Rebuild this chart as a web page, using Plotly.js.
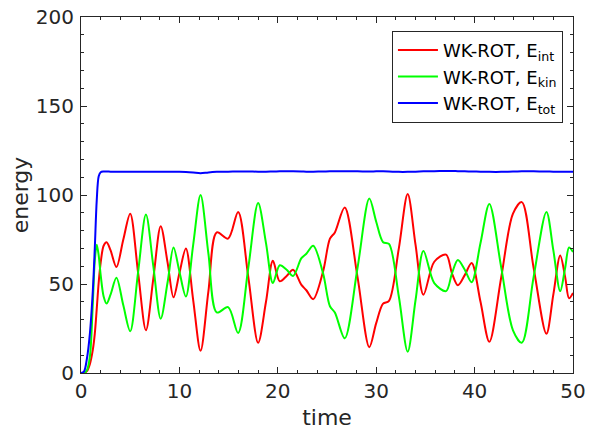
<!DOCTYPE html>
<html>
<head>
<meta charset="utf-8">
<script src="https://cdn.plot.ly/plotly-3.0.1.min.js"></script>
<style>html,body{margin:0;padding:0;background:#fff;}#chart{width:598px;height:434px;}</style>
</head>
<body>
<div id="chart"></div>
<script>
const time = [0, 0.3, 0.6, 0.9, 1.2, 1.4, 1.6, 1.8, 2.0, 2.3, 2.6, 3.0, 3.6, 4.3, 5.0, 5.8, 6.6, 7.35, 8.1, 8.8,
  9.4, 10.0, 10.66, 11.4, 12.15, 12.95, 13.8, 14.95, 15.97, 17.0, 18.0, 18.8, 19.5, 20.2, 20.9, 21.55, 22.4, 22.9, 23.6, 24.6,
  25.3, 25.8, 26.8, 28.1, 29.3, 30.0, 30.7, 31.3, 32.3, 33.2, 34.0, 34.8, 35.9, 37.1, 37.7, 38.3, 39.0, 39.7, 40.6, 41.5,
  42.7, 43.9, 44.8, 46.0, 47.3, 48.0, 48.7, 49.2, 49.6, 50.0];
const eInt = [0, 0, 1, 5, 13, 22, 36, 51, 62, 71.5, 73.5, 69, 59.5, 75, 89.5, 56.5, 24, 53, 82.5, 62,
  42.5, 56, 70, 41, 12.5, 46, 79, 75.5, 90.5, 54, 17, 40, 63, 51.5, 54.5, 58, 49.5, 46.5, 41.5, 57,
  75.5, 79, 93, 54, 14.5, 28, 39, 40.5, 70, 100.5, 72, 44, 62.5, 66.5, 56, 49.3, 55, 61.8, 40, 17.5,
  53.5, 89.5, 96, 59, 22, 44, 66, 54, 42, 45];
const eKin = [0, 0, 1.5, 9, 39, 63, 72, 66, 55, 43, 39, 44, 53.5, 38, 23.5, 56.5, 89, 60, 30.5, 51,
  70.5, 57, 43, 72, 100, 67, 34, 37, 22.5, 59, 95.5, 73, 50.5, 60.5, 58, 54.5, 64.5, 67, 71.5, 56,
  37.5, 34, 19.5, 59, 98, 85, 73.5, 72.5, 43, 12, 41, 68.5, 50.5, 46, 56, 63.5, 58, 51, 73, 95,
  59.5, 24, 17, 54, 90.5, 69, 46, 59, 70.5, 68];
const eTot = [0, 0.8, 8, 22, 46, 70, 97, 110.5, 112.8, 113.2, 113.2, 113.1, 113.0, 113.0, 113.0, 113.1, 113.1, 113.0, 113.0, 113.0,
  113.0, 113.0, 112.9, 112.6, 112.2, 112.7, 113.0, 113.1, 113.2, 113.2, 113.1, 113.1, 113.2, 113.3, 113.3, 113.3, 113.2, 113.1, 113.1, 113.2,
  113.3, 113.3, 113.3, 113.3, 113.2, 113.3, 113.3, 113.2, 113.0, 113.0, 113.1, 113.3, 113.4, 113.5, 113.5, 113.4, 113.3, 113.2, 113.1, 113.0,
  113.0, 113.2, 113.3, 113.3, 113.2, 113.1, 113.1, 113.1, 113.1, 113.1];

const seriesNames = ['WK-ROT, E<sub>int</sub>', 'WK-ROT, E<sub>kin</sub>', 'WK-ROT, E<sub>tot</sub>'];
const seriesColors = ['#ff0000', '#00ff00', '#0000ff'];
const xTickVals = [0, 10, 20, 30, 40, 50];
const yTickVals = [0, 50, 100, 150, 200];

const ys = [eInt, eKin, eTot];
const traces = ys.map((y, i) => ({
  x: time, y: y, type: 'scatter', mode: 'lines', name: seriesNames[i],
  line: {color: seriesColors[i], width: 2, shape: 'spline', smoothing: 0.9}
}));

const axisCommon = {
  showline: true, linecolor: '#262626', linewidth: 1, mirror: 'ticks',
  ticks: 'inside', ticklen: 6, tickcolor: '#262626', tickwidth: 1,
  showgrid: false, zeroline: false,
  tickfont: {family: 'DejaVu Sans', size: 20, color: '#262626'},
  automargin: false
};

const layout = {
  width: 598, height: 434,
  margin: {l: 81, r: 25, t: 17, b: 61, pad: 0},
  paper_bgcolor: '#ffffff', plot_bgcolor: '#ffffff',
  font: {family: 'DejaVu Sans', color: '#262626'},
  xaxis: Object.assign({}, axisCommon, {
    range: [0, 50], tickmode: 'array', tickvals: xTickVals,
    minor: {dtick: 2, ticklen: 3, ticks: 'inside', tickcolor: '#262626'},
    title: {text: 'time', font: {family: 'DejaVu Sans', size: 22, color: '#262626'}, standoff: 7}
  }),
  yaxis: Object.assign({}, axisCommon, {
    range: [0, 200], tickmode: 'array', tickvals: yTickVals, ticklabelstandoff: 2,
    minor: {dtick: 10, ticklen: 3, ticks: 'inside', tickcolor: '#262626'},
    title: {text: 'energy', font: {family: 'DejaVu Sans', size: 22, color: '#262626'}, standoff: 1}
  }),
  showlegend: true,
  legend: {
    x: 0.632, y: 0.961, xanchor: 'left', yanchor: 'top', itemwidth: 40,
    bgcolor: '#ffffff', bordercolor: '#262626', borderwidth: 1,
    font: {family: 'DejaVu Sans', size: 18, color: '#000000'}
  }
};

Plotly.newPlot('chart', traces, layout, {staticPlot: true, displayModeBar: false});
</script>
</body>
</html>
